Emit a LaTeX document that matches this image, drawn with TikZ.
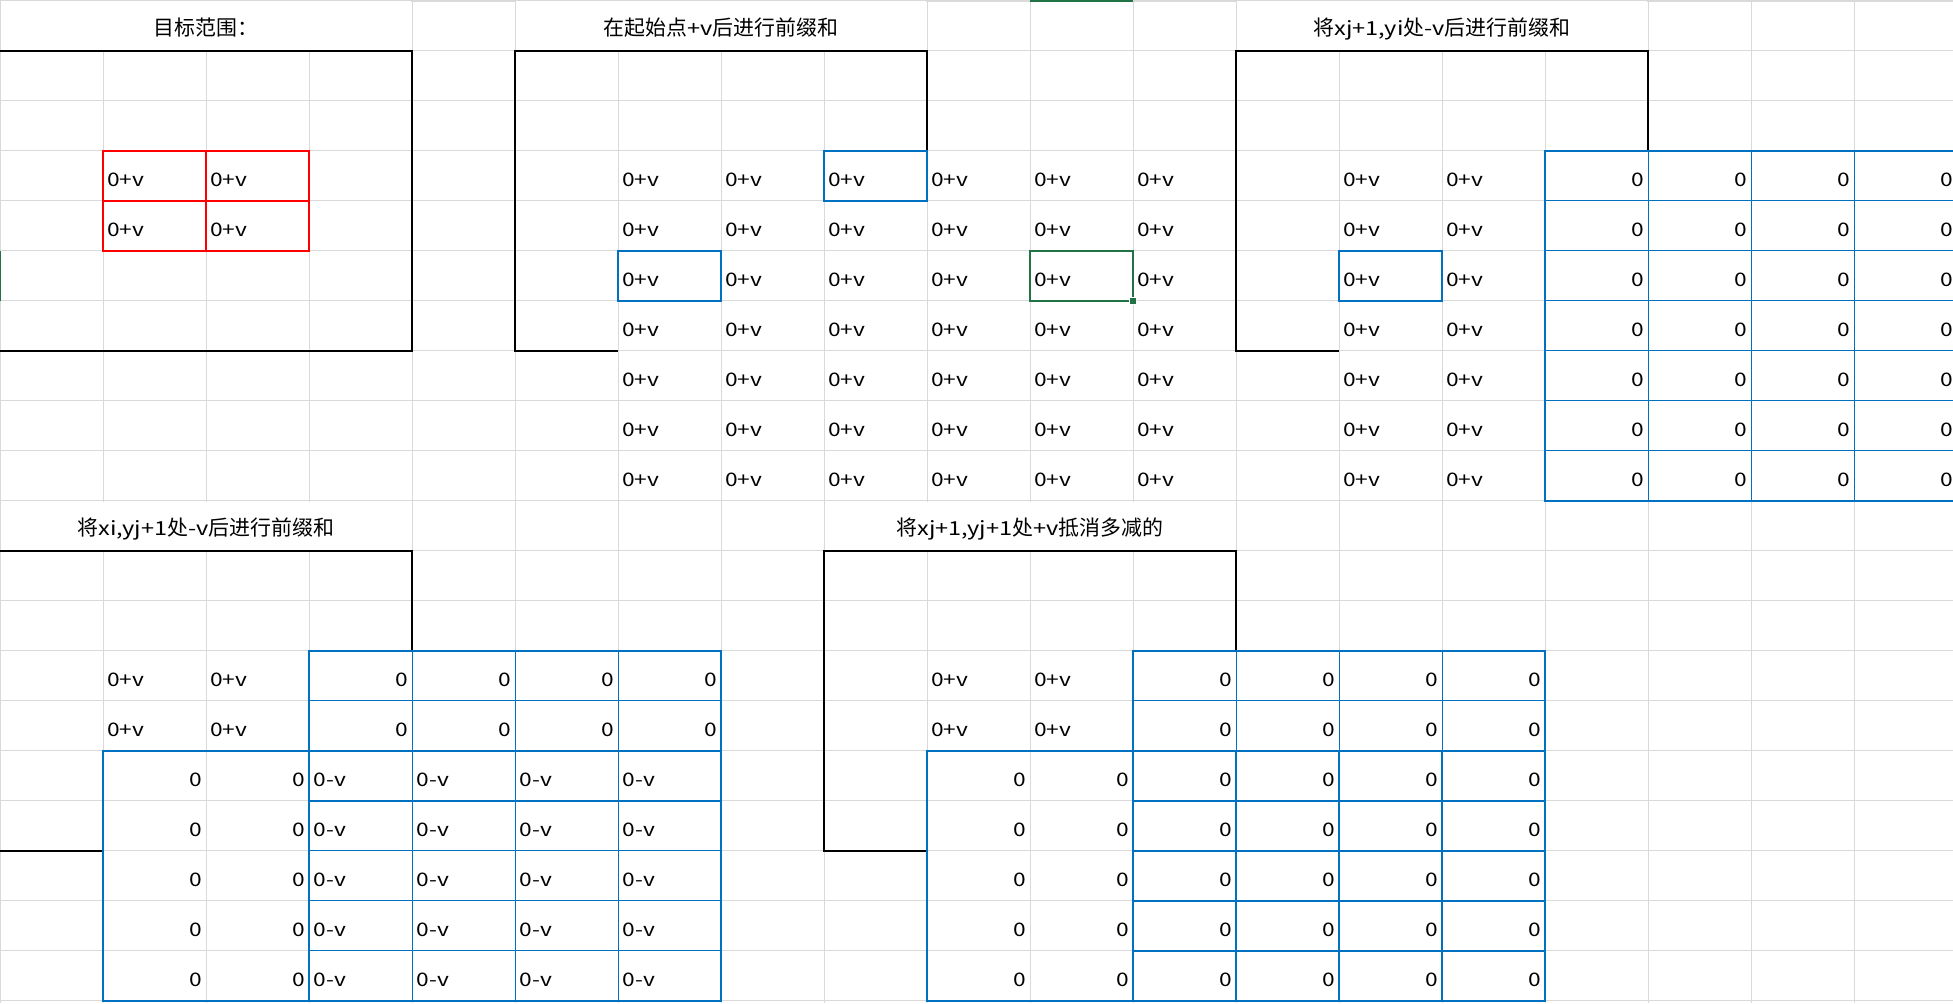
\documentclass[tikz,border=0pt]{standalone}
\usepackage{fontspec}
\newfontfamily\cjkfont{Noto Sans CJK SC}
\newfontfamily\latfont[FakeStretch=1.22]{Noto Sans CJK SC}
\newcommand\xlcell{\latfont\fontsize{14}{16}\selectfont}
\newcommand\xlttl{\cjkfont\fontsize{15.7}{18}\selectfont}
\newcommand\lt[1]{{\latfont\fontsize{14.5}{17}\selectfont #1}}
\definecolor{xlgrid}{HTML}{D9D9D9}
\definecolor{xlblue}{HTML}{0070C0}
\definecolor{xlgreen}{HTML}{217346}
\begin{document}
\begin{tikzpicture}[x=77.25pt,y=-37.5pt,
  gridln/.style={draw=xlgrid,line width=0.75pt},
  frame/.style={draw=black,line width=1.5pt},
  bthick/.style={draw=xlblue,line width=1.5pt},
  bthin/.style={draw=xlblue,line width=0.75pt},
  rbox/.style={draw=red,line width=1.5pt},
  gbox/.style={draw=xlgreen,line width=1.5pt},
  cellL/.style={anchor=base west,inner sep=0pt,font=\xlcell},
  cellR/.style={anchor=base east,inner sep=0pt,font=\xlcell},
  ttl/.style={anchor=base,inner sep=0pt,font=\xlttl}]
\useasboundingbox (0,-0.01) rectangle (18.961,20.05);
\clip (0,-0.01) rectangle (18.961,20.05);
% spreadsheet grid
\foreach \k in {0,...,18} \draw[gridln] (\k,-0.01) -- (\k,20.05);
\foreach \k in {0,...,20} \draw[gridln] (0,\k) -- (18.961,\k);
\draw[gridln] (0,0.024) -- (18.961,0.024);
% merged title cells
\foreach \a/\b/\r in {0/4/0,5/9/0,12/16/0,0/4/10,8/12/10}
  \fill[white] (\a+0.008,\r+0.02) rectangle (\b-0.008,\r+0.98);
% titles
\node[ttl] (t1) at (2,0.70) {目标范围：};
\node[ttl] (t2) at (7,0.70) {在起始点\lt{+v}后进行前缀和};
\node[ttl] (t3) at (14,0.70) {将\lt{xj+1,yi}处\lt{-v}后进行前缀和};
\node[ttl] (t4) at (2,10.70) {将\lt{xi,yj+1}处\lt{-v}后进行前缀和};
\node[ttl] (t5) at (10,10.70) {将\lt{xj+1,yj+1}处\lt{+v}抵消多减的};
% ---------- panel 1
\draw[frame] (0,1) -- (4,1) -- (4,7) -- (0,7);
\foreach \c in {1,2} \foreach \r in {3,4}
  \node[cellL] (a-\c-\r) at (\c+0.039,\r+0.72) {0+v};
\draw[rbox] (1,3) rectangle (3,5) (2,3) -- (2,5) (1,4) -- (3,4);
\draw[xlgreen,line width=2pt] (0,5) -- (0,6);
% ---------- panel 2
\draw[frame] (6,7) -- (5,7) -- (5,1) -- (9,1) -- (9,3);
\foreach \c in {6,...,11} \foreach \r in {3,...,9}
  \node[cellL] (b-\c-\r) at (\c+0.039,\r+0.72) {0+v};
\draw[bthick] (8,3) rectangle (9,4);
\draw[bthick] (6,5) rectangle (7,6);
\draw[gbox] (10,5) rectangle (11,6);
\fill[white] ([xshift=-3pt,yshift=-3pt]11,6) rectangle ([xshift=3pt,yshift=3pt]11,6);
\fill[xlgreen] ([xshift=-2.25pt,yshift=-2.25pt]11,6) rectangle ([xshift=2.25pt,yshift=2.25pt]11,6);
\draw[xlgreen,line width=2.5pt] (10,-0.01) -- (11,-0.01);
% ---------- panel 3
\draw[frame] (13,7) -- (12,7) -- (12,1) -- (16,1) -- (16,3);
\foreach \c in {13,14} \foreach \r in {3,...,9}
  \node[cellL] (c-\c-\r) at (\c+0.039,\r+0.72) {0+v};
\foreach \c in {15,...,18} \foreach \r in {3,...,9}
  \node[cellR] (z-\c-\r) at (\c+0.961,\r+0.72) {0};
\foreach \k in {16,17,18} \draw[bthin] (\k,3) -- (\k,10);
\foreach \k in {4,...,9} \draw[bthin] (15,\k) -- (19,\k);
\draw[bthick] (15,3) rectangle (19,10);
\draw[bthick] (13,5) rectangle (14,6);
% ---------- panel 4
\draw[frame] (0,11) -- (4,11) -- (4,13);
\draw[frame] (0,17) -- (1,17);
\foreach \c in {1,2} \foreach \r in {13,14}
  \node[cellL] (d-\c-\r) at (\c+0.039,\r+0.72) {0+v};
\foreach \c in {3,...,6} \foreach \r in {13,14}
  \node[cellR] (e-\c-\r) at (\c+0.961,\r+0.72) {0};
\foreach \c in {1,2} \foreach \r in {15,...,19}
  \node[cellR] (f-\c-\r) at (\c+0.961,\r+0.72) {0};
\foreach \c in {3,...,6} \foreach \r in {15,...,19}
  \node[cellL] (g-\c-\r) at (\c+0.045,\r+0.72) {0-v};
\foreach \k in {4,5,6} \draw[bthin] (\k,13) -- (\k,20);
\foreach \k in {14,17,18,19} \draw[bthin] (3,\k) -- (7,\k);
\draw[bthick] (3,13) rectangle (7,15);
\draw[bthick] (1,15) rectangle (7,20);
\draw[bthick] (3,15) -- (3,20);
\draw[bthick] (3,16) -- (7,16);
% ---------- panel 5
\draw[frame] (9,17) -- (8,17) -- (8,11) -- (12,11) -- (12,13);
\foreach \c in {9,10} \foreach \r in {13,14}
  \node[cellL] (h-\c-\r) at (\c+0.039,\r+0.72) {0+v};
\foreach \c in {11,...,14} \foreach \r in {13,14}
  \node[cellR] (i-\c-\r) at (\c+0.961,\r+0.72) {0};
\foreach \c in {9,...,14} \foreach \r in {15,...,19}
  \node[cellR] (j-\c-\r) at (\c+0.961,\r+0.72) {0};
\foreach \k in {12,13,14} \draw[bthin] (\k,13) -- (\k,15);
\draw[bthin] (11,14) -- (15,14);
\draw[bthick] (11,13) rectangle (15,15);
\draw[bthick] (9,15) rectangle (15,20);
\foreach \k in {11,...,14} \draw[bthick] (\k,15) -- (\k,20);
\foreach \k in {16,...,19} \draw[bthick] (11,\k) -- (15,\k);
\end{tikzpicture}
\end{document}
